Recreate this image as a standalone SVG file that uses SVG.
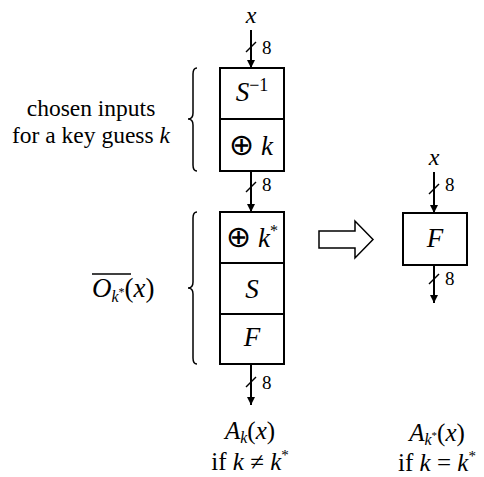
<svg xmlns="http://www.w3.org/2000/svg" width="484" height="477" viewBox="0 0 484 477">
<style>
.box{fill:#fff;stroke:#000;stroke-width:2}
.ln{stroke:#000;stroke-width:2;fill:none}
.thin{stroke:#000;stroke-width:1.5;fill:none}
text{font-family:'Liberation Serif','DejaVu Serif',serif;fill:#000}
.t{font-size:23.5px}
.m{font-size:27px}
.o{font-size:25px}
.i{font-style:italic}
.n{font-size:19px}
.sub{font-size:16px}
.op{font-family:'DejaVu Sans',sans-serif;font-size:30px}
</style>
<defs>
<marker id="ah" viewBox="0 0 8 10" refX="8" refY="5" markerWidth="8" markerHeight="10" markerUnits="userSpaceOnUse" orient="auto">
<path d="M0,1 L8,5 L0,9 Z" fill="#000"/>
</marker>
</defs>
<g id="connectors">
<line class="ln" x1="251" y1="30" x2="251" y2="68" marker-end="url(#ah)"/>
<line class="thin" x1="246" y1="52" x2="256" y2="42"/>
<text class="n" x="262" y="54">8</text>
<line class="ln" x1="251" y1="171" x2="251" y2="212" marker-end="url(#ah)"/>
<line class="thin" x1="246" y1="192" x2="256" y2="182"/>
<text class="n" x="262" y="191">8</text>
<line class="ln" x1="251" y1="364" x2="251" y2="405" marker-end="url(#ah)"/>
<line class="thin" x1="246" y1="387" x2="256" y2="377"/>
<text class="n" x="262" y="389">8</text>
<line class="ln" x1="434" y1="172" x2="434" y2="213" marker-end="url(#ah)"/>
<line class="thin" x1="429" y1="194" x2="439" y2="184"/>
<text class="n" x="445" y="191">8</text>
<line class="ln" x1="434" y1="265" x2="434" y2="303" marker-end="url(#ah)"/>
<line class="thin" x1="429" y1="284" x2="439" y2="274"/>
<text class="n" x="445" y="285">8</text>
<polygon class="thin" points="319,231 355,231 355,221 373,239.5 355,258 355,248 319,248"/>
</g>
<g id="inX">
<text class="i" font-size="24" x="251" y="23" text-anchor="middle">x</text>
</g>
<g id="chosen">
<path class="thin" d="M197,68 Q193,68 193,74 L193,113 Q193,119 188,119 Q193,119 193,125 L193,165 Q193,171 197,171"/>
<text class="t" x="91" y="116" text-anchor="middle">chosen inputs</text>
<text class="t" x="91" y="143" text-anchor="middle">for a key guess <tspan class="i">k</tspan></text>
</g>
<g id="sinv">
<rect class="box" x="220" y="68" width="64" height="51"/>
<text class="m" x="252" y="101" text-anchor="middle"><tspan class="i">S</tspan><tspan font-size="18" dy="-10">−1</tspan></text>
</g>
<g id="xork">
<rect class="box" x="220" y="119" width="64" height="52"/>
<text class="m" x="251" y="155" text-anchor="middle"><tspan class="op">⊕</tspan> <tspan class="i">k</tspan></text>
</g>
<g id="oracle">
<path class="thin" d="M197,212 Q193,212 193,218 L193,282 Q193,288 188,288 Q193,288 193,294 L193,358 Q193,364 197,364"/>
<text class="m" x="92" y="297"><tspan class="i">O</tspan><tspan class="i sub" dy="5">k</tspan><tspan font-size="12" dy="-6">*</tspan><tspan dy="1">(</tspan><tspan class="i">x</tspan>)</text>
<line x1="92" y1="274" x2="131" y2="274" stroke="#000" stroke-width="1.3"/>
</g>
<g id="xorkstar">
<rect class="box" x="220" y="212" width="64" height="51"/>
<text class="m" x="252" y="247" text-anchor="middle"><tspan class="op">⊕</tspan> <tspan class="i">k</tspan><tspan font-size="16" dy="-11">*</tspan></text>
</g>
<g id="sbox">
<rect class="box" x="220" y="263" width="64" height="51"/>
<text class="m i" x="252" y="298" text-anchor="middle">S</text>
</g>
<g id="fbox">
<rect class="box" x="220" y="314" width="64" height="50"/>
<text class="m i" x="252" y="346" text-anchor="middle">F</text>
</g>
<g id="outLeft">
<text class="o" x="250" y="439" text-anchor="middle"><tspan class="i">A</tspan><tspan class="i sub" dy="4">k</tspan><tspan dy="-4">(</tspan><tspan class="i">x</tspan>)</text>
<text class="o" x="250" y="470" text-anchor="middle">if <tspan class="i">k</tspan> ≠ <tspan class="i">k</tspan><tspan font-size="15" dy="-10">*</tspan></text>
</g>
<g id="inX2">
<text class="i" font-size="24" x="434" y="165" text-anchor="middle">x</text>
</g>
<g id="fbox2">
<rect class="box" x="403" y="213" width="64" height="52"/>
<text class="m i" x="435" y="247" text-anchor="middle">F</text>
</g>
<g id="outRight">
<text class="o" x="437" y="441" text-anchor="middle"><tspan class="i">A</tspan><tspan class="i sub" dy="4">k</tspan><tspan font-size="11" dy="-6">*</tspan><tspan dy="2">(</tspan><tspan class="i">x</tspan>)</text>
<text class="o" x="437" y="471" text-anchor="middle">if <tspan class="i">k</tspan> = <tspan class="i">k</tspan><tspan font-size="15" dy="-10">*</tspan></text>
</g>
</svg>
